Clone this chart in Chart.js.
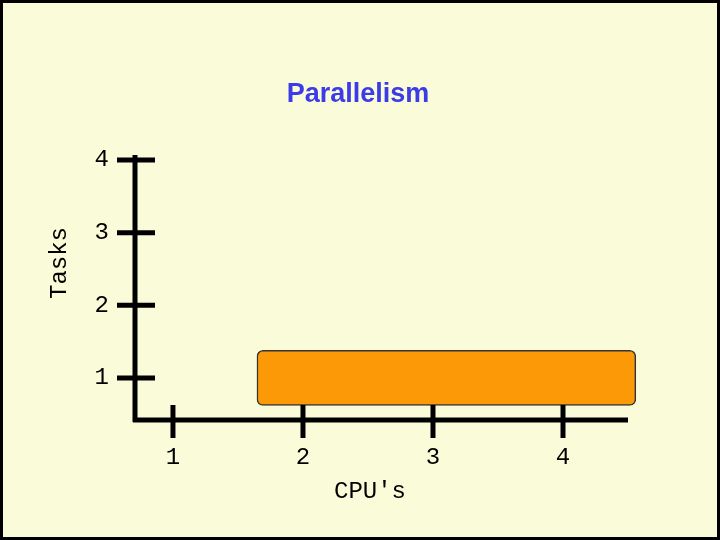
<!DOCTYPE html>
<html><head><script src="https://cdn.jsdelivr.net/npm/chart.js@4"></script>
<style>html,body{margin:0;padding:0;background:#fafcd9}
#w{position:relative;width:714px;height:534px;border:3px solid #000;background:#fafcd9}</style></head>
<body><div id="w"><canvas id="c" width="714" height="534"></canvas></div>
<script>
const title = "Parallelism";
const xTitle = "CPU's";
const yTitle = "Tasks";
const xTicks = [1, 2, 3, 4];
const yTicks = [1, 2, 3, 4];
const barY = [1];
const barRange = [[1.646, 4.56]];
const mono = '"Liberation Mono", "DejaVu Sans Mono", monospace';
const deco = {
  id: 'deco',
  afterDraw(ch) {
    const c = ch.ctx, x = ch.scales.x, y = ch.scales.y;
    c.save();
    c.strokeStyle = '#000'; c.lineWidth = 5; c.lineCap = 'butt';
    const x0 = x.getPixelForValue(x.min), y0 = y.getPixelForValue(y.min);
    c.beginPath(); c.moveTo(x0, y.getPixelForValue(y.max)); c.lineTo(x0, y0 + 2);
    c.moveTo(x0 - 2, y0); c.lineTo(x.getPixelForValue(x.max), y0); c.stroke();
    c.fillStyle = '#000'; c.font = '24px ' + mono; c.textBaseline = 'middle';
    yTicks.forEach(v => { const p = y.getPixelForValue(v);
      c.beginPath(); c.moveTo(x0 - 18, p); c.lineTo(x0 + 20, p); c.stroke();
      c.textAlign = 'right'; c.fillText(String(v), x0 - 26, p); });
    xTicks.forEach(v => { const p = x.getPixelForValue(v);
      c.beginPath(); c.moveTo(p, y0 - 15); c.lineTo(p, y0 + 18); c.stroke();
      c.textAlign = 'center'; c.fillText(String(v), p, y0 + 38); });
    c.fillText(xTitle, 367, 489);
    c.save(); c.translate(57, 260); c.rotate(-Math.PI / 2); c.fillText(yTitle, 0, 0); c.restore();
    c.fillStyle = '#3b3be8'; c.font = 'bold 27px "Liberation Sans", Arial, sans-serif';
    c.fillText(title, 355, 92);
    c.restore();
  }
};
new Chart(document.getElementById('c'), {
  type: 'bar',
  data: { labels: barY, datasets: [{ data: barRange.map((r, i) => ({ y: barY[i], x: r })),
    backgroundColor: '#fb9a06', borderColor: '#333', borderWidth: 1.5, borderRadius: 6,
    borderSkipped: false, barThickness: 55, clip: false }] },
  options: {
    indexAxis: 'y', responsive: false, animation: false,
    layout: { padding: { left: 132, right: 89, top: 152, bottom: 117 } },
    plugins: { legend: { display: false }, tooltip: { enabled: false } },
    scales: {
      x: { type: 'linear', min: 0.708, max: 4.5, display: false, offset: false },
      y: { type: 'linear', min: 0.42, max: 4.07, display: false, offset: false }
    }
  },
  plugins: [deco]
});
</script></body></html>
